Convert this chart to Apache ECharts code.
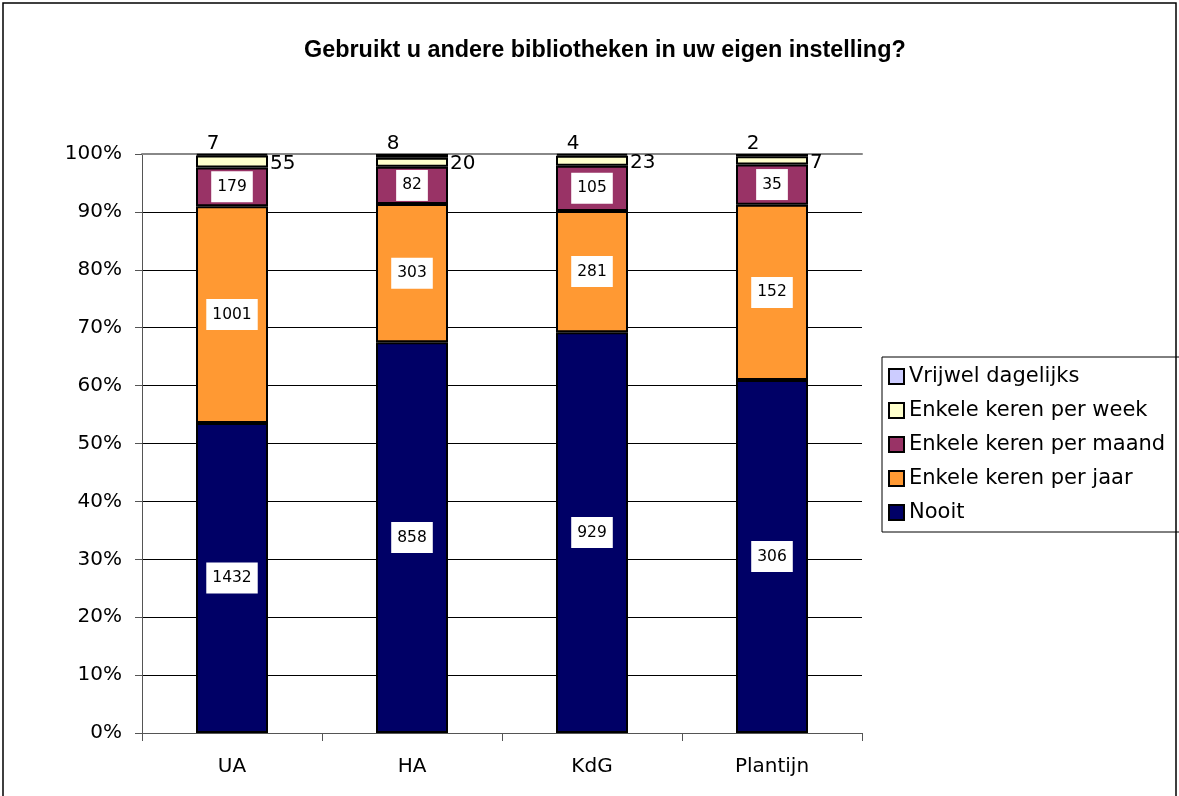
<!DOCTYPE html>
<html>
<head>
    <meta charset="utf-8">
    <title>Gebruikt u andere bibliotheken</title>
    <script src="https://cdn.jsdelivr.net/npm/echarts@6/dist/echarts.min.js"></script>
</head>
<body style="margin:0">
    <div id="main" style="width:1179px;height:796px;"></div>
    <script type="text/javascript">
        var categories = ['UA', 'HA', 'KdG', 'Plantijn'];
        var nooit = [1432, 858, 929, 306];
        var perJaar = [1001, 303, 281, 152];
        var perMaand = [179, 82, 105, 35];
        var perWeek = [55, 20, 23, 7];
        var dagelijks = [7, 8, 4, 2];

        var seriesNames = ['Nooit', 'Enkele keren per jaar', 'Enkele keren per maand', 'Enkele keren per week', 'Vrijwel dagelijks'];
        var seriesData = [nooit, perJaar, perMaand, perWeek, dagelijks];
        var colors = ['#000066', '#FF9933', '#993366', '#FFFFCC', '#CCCCFF'];

        // totaal per instelling, voor 100% gestapeld
        var totals = categories.map(function (c, i) {
            var s = 0;
            seriesData.forEach(function (d) { s += d[i]; });
            return s;
        });

        var font = 'DejaVu Sans, Verdana, sans-serif';

        var innerLabel = {
            show: true,
            position: 'inside',
            backgroundColor: '#fff',
            padding: [8, 6, 7, 6],
            color: '#000',
            fontFamily: font,
            fontSize: 15.5,
            formatter: function (p) { return p.data.raw; }
        };

        var labels = [
            innerLabel, innerLabel, innerLabel,
            { show: true, position: 'right', distance: 2, offset: [0, 2], color: '#000', fontFamily: font, fontSize: 20,
              formatter: function (p) { return p.data.raw; } },
            { show: true, position: 'top', distance: 0, offset: [-19, 0], color: '#000', fontFamily: font, fontSize: 20,
              formatter: function (p) { return p.data.raw; } }
        ];

        var series = seriesNames.map(function (name, k) {
            return {
                name: name,
                type: 'bar',
                stack: 'totaal',
                barWidth: 72,
                itemStyle: { color: colors[k], borderColor: '#000', borderWidth: 2 },
                label: labels[k],
                emphasis: { disabled: true },
                data: seriesData[k].map(function (v, i) {
                    return { value: v / totals[i] * 100, raw: v };
                })
            };
        });

        var myChart = echarts.init(document.getElementById('main'));
        var option = {
            backgroundColor: '#fff',
            animation: false,
            title: {
                text: 'Gebruikt u andere bibliotheken in uw eigen instelling?',
                left: 299,
                top: 34,
                textStyle: { fontFamily: 'Liberation Sans, Arial, sans-serif', fontWeight: 'bold', fontSize: 23.4, color: '#000' }
            },
            legend: {
                orient: 'vertical',
                left: 882,
                top: 357,
                padding: [9, 80, 9, 6],
                borderColor: '#000',
                borderWidth: 1,
                itemWidth: 15,
                itemHeight: 15,
                itemGap: 13,
                icon: 'rect',
                textStyle: { fontFamily: font, fontSize: 21, color: '#000' },
                data: ['Vrijwel dagelijks', 'Enkele keren per week', 'Enkele keren per maand', 'Enkele keren per jaar', 'Nooit']
            },
            grid: { left: 142, right: 317, top: 154, bottom: 63 },
            xAxis: [{
                type: 'category',
                data: categories,
                axisLine: { lineStyle: { color: '#555', width: 1 } },
                axisTick: { show: true, length: 8, lineStyle: { color: '#555' } },
                axisLabel: { margin: 24, color: '#000', fontFamily: font, fontSize: 20 }
            }, {
                type: 'category',
                position: 'top',
                data: categories,
                axisLine: { show: true, lineStyle: { color: '#888', width: 2 } },
                axisTick: { show: false },
                axisLabel: { show: false }
            }],
            yAxis: {
                type: 'value',
                min: 0,
                max: 100,
                interval: 10,
                axisLine: { show: true, lineStyle: { color: '#555' } },
                axisTick: { show: true, length: 7, lineStyle: { color: '#555' } },
                axisLabel: { formatter: '{value}%', margin: 20, color: '#000', fontFamily: font, fontSize: 20 },
                splitLine: { lineStyle: { color: '#000', width: 1 } }
            },
            graphic: [{
                type: 'rect',
                shape: { x: 3, y: 3, width: 1173, height: 800 },
                style: { fill: null, stroke: '#000', lineWidth: 1.5 },
                silent: true
            }],
            series: series
        };
        myChart.setOption(option);
    </script>
</body>
</html>
